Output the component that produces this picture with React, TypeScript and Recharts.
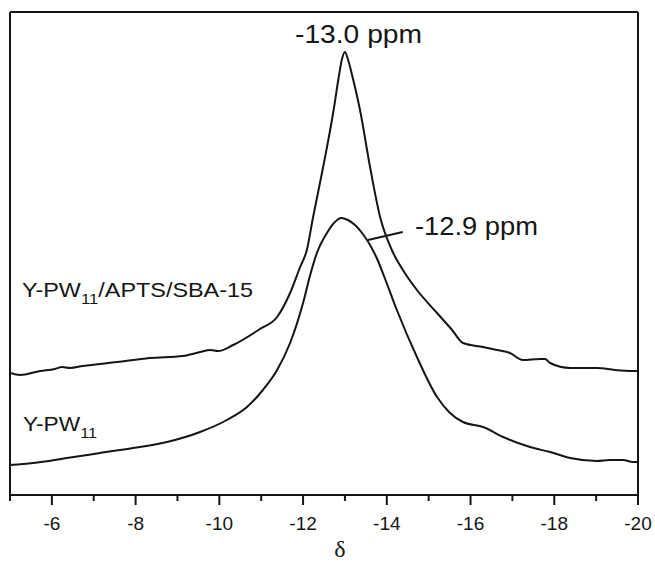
import React from 'react';
import { LineChart, Line, XAxis, YAxis, ReferenceLine } from 'recharts';

// Chemical shift (ppm) and intensity (a.u.)
const sbaPpm = [-5.0, -5.24, -5.72, -6.07, -6.24, -6.43, -6.74, -7.56, -8.34, -9.13, -9.54, -9.78, -9.97, -10.33, -10.97, -11.38, -11.69, -11.93, -12.09, -12.24, -12.48, -12.73, -12.86, -12.93, -13.0, -13.07, -13.17, -13.36, -13.6, -13.84, -14.12, -14.43, -14.72, -15.2, -15.56, -15.82, -16.3, -16.63, -16.94, -17.25, -17.66, -17.78, -17.9, -18.38, -19.02, -19.45, -19.88, -20.0];
const sbaInt = [122, 120, 124, 126, 128, 127, 129, 133, 137, 139, 143, 145, 144, 150, 166, 178, 202, 228, 245, 278, 328, 385, 420, 436, 443, 436, 420, 385, 328, 278, 245, 222, 205, 182, 165, 152, 148, 145, 142, 135, 136, 136, 132, 127, 127, 125, 124, 124];

const ypwPpm = [-5.0, -5.55, -6.36, -7.15, -7.94, -8.75, -9.54, -10.18, -10.66, -11.04, -11.38, -11.69, -12.0, -12.17, -12.33, -12.57, -12.76, -12.91, -13.07, -13.24, -13.41, -13.6, -13.77, -13.96, -14.24, -14.72, -15.2, -15.51, -15.82, -16.3, -16.78, -17.42, -17.9, -18.38, -19.02, -19.33, -19.64, -19.88, -20.0];
const ypwInt = [30, 32, 37, 42, 47, 53, 63, 75, 88, 105, 125, 152, 192, 220, 242, 262, 273, 277, 275, 270, 262, 250, 236, 216, 185, 138, 98, 82, 73, 68, 58, 48, 43, 37, 34, 35, 35, 33, 33];

const xTicks = [-5, -6, -7, -8, -9, -10, -11, -12, -13, -14, -15, -16, -17, -18, -19, -20];
const xDomain = [-20, -5];
const yDomain = [0, 483];

const leaderPpm = [-13.55, -14.38];
const leaderInt = [255, 263];

const sbaData = sbaPpm.map((p, i) => ({ ppm: p, int: sbaInt[i] }));
const ypwData = ypwPpm.map((p, i) => ({ ppm: p, int: ypwInt[i] }));

const INK = '#151515';
const SANS = '"Liberation Sans", Arial, Helvetica, sans-serif';

const AxisTick = (props: any) => {
  const { x, y, payload } = props;
  const v = payload.value;
  const major = Math.abs(v) % 2 === 0;
  return (
    <g>
      <line x1={x} x2={x} y1={y} y2={y + (major ? 10 : 6)} stroke={INK} strokeWidth={2} />
      {major && (
        <text x={x} y={y + 22} dy="0.71em" textAnchor="middle" fontFamily={SANS} fontSize={19} fill={INK}>
          {v}
        </text>
      )}
    </g>
  );
};

export default function App() {
  return (
    <div style={{ position: 'absolute', left: 0, top: 0, width: 655, height: 564, background: '#fff' }}>
      <LineChart width={655} height={564} margin={{ top: 12, right: 17, left: 10, bottom: 39 }}>
        <XAxis
          type="number"
          dataKey="ppm"
          domain={xDomain}
          reversed
          allowDataOverflow
          ticks={xTicks}
          interval={0}
          height={30}
          tickSize={0}
          tickMargin={0}
          tickLine={false}
          tick={<AxisTick />}
          axisLine={{ stroke: INK, strokeWidth: 2 }}
        />
        <YAxis type="number" dataKey="int" domain={yDomain} hide allowDataOverflow />
        <ReferenceLine y={yDomain[1]} stroke={INK} strokeWidth={2} />
        <ReferenceLine x={xDomain[1]} stroke={INK} strokeWidth={2} />
        <ReferenceLine x={xDomain[0]} stroke={INK} strokeWidth={2} />
        <Line data={sbaData} dataKey="int" type="monotone" stroke={INK} strokeWidth={2} dot={false} isAnimationActive={false} />
        <Line data={ypwData} dataKey="int" type="monotone" stroke={INK} strokeWidth={2} dot={false} isAnimationActive={false} />
        <ReferenceLine
          segment={[
            { x: leaderPpm[0], y: leaderInt[0] },
            { x: leaderPpm[1], y: leaderInt[1] },
          ]}
          stroke={INK}
          strokeWidth={2}
        />
      </LineChart>
      <svg width={655} height={564} style={{ position: 'absolute', left: 0, top: 0, pointerEvents: 'none' }}>
        <text x={295} y={43} fontFamily={SANS} fontSize={25} fill={INK} textLength={127} lengthAdjust="spacingAndGlyphs">-13.0 ppm</text>
        <text x={415} y={235} fontFamily={SANS} fontSize={25} fill={INK} textLength={123} lengthAdjust="spacingAndGlyphs">-12.9 ppm</text>
        <text x={22} y={297} fontFamily={SANS} fontSize={21} fill={INK} textLength={231} lengthAdjust="spacingAndGlyphs">
          Y-PW<tspan fontSize={15} dy={7}>11</tspan><tspan dy={-7}>/APTS/SBA-15</tspan>
        </text>
        <text x={23} y={431} fontFamily={SANS} fontSize={21} fill={INK} textLength={74} lengthAdjust="spacingAndGlyphs">
          Y-PW<tspan fontSize={15} dy={7}>11</tspan>
        </text>
        <text x={340} y={557} textAnchor="middle" fontFamily={'"Liberation Serif", "Times New Roman", serif'} fontSize={24} fill={INK}>δ</text>
      </svg>
    </div>
  );
}
